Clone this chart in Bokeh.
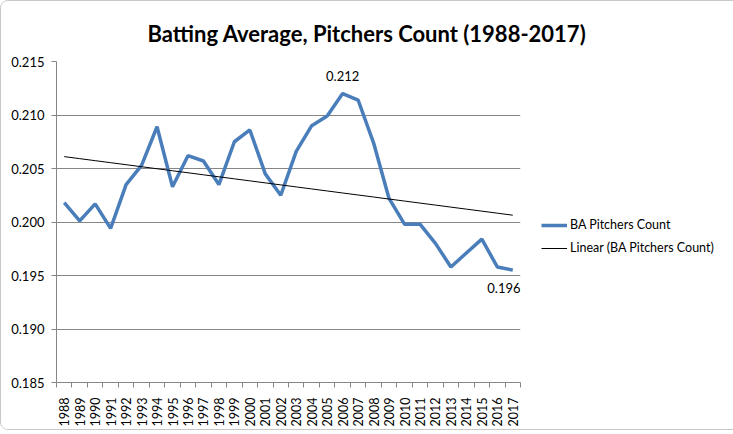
import numpy as np
from bokeh.plotting import figure
from bokeh.models import FixedTicker, NumeralTickFormatter, Legend, LegendItem, Range1d, Title
from bokeh.core.properties import value
from bokeh.embed import file_html
from bokeh.resources import INLINE

years = list(range(1988, 2018))
ba = [0.2018, 0.2001, 0.2017, 0.1994, 0.2035, 0.2053, 0.2089, 0.2033, 0.2062, 0.2057,
      0.2035, 0.2075, 0.2086, 0.2045, 0.2025, 0.2066, 0.2090, 0.2099, 0.2120, 0.2114,
      0.2074, 0.2022, 0.1998, 0.1998, 0.1980, 0.1958, 0.1971, 0.1984, 0.1958, 0.1955]
label_years = [2006, 2017]
label_text = ["0.212", "0.196"]
y_ticks = [0.185, 0.19, 0.195, 0.2, 0.205, 0.21, 0.215]

FONT = "Lato"
GREY = "#868686"

# linear trend like Excel's "Linear (...)"
slope, intercept = np.polyfit(years, ba, 1)
trend = [slope * y + intercept for y in years]

p = figure(frame_width=464, frame_height=321, output_backend="svg", toolbar_location=None,
           x_range=Range1d(1987.5, 2017.5), y_range=Range1d(0.185, 0.215),
           min_border_left=55, min_border_right=200, min_border_top=60, min_border_bottom=38)
p.outline_line_color = None
p.background_fill_color = "white"
p.border_fill_color = "white"
p.styles = {"border": "1px solid #c8c8c8", "border-radius": "8px", "overflow": "hidden"}

p.add_layout(Title(text="Batting Average, Pitchers Count (1988-2017)", align="left", offset=91,
                   standoff=29, text_font=FONT, text_font_size="22px", text_font_style="bold",
                   text_color="black"), "above")

p.xgrid.grid_line_color = None
p.ygrid.grid_line_color = GREY
p.ygrid.ticker = FixedTicker(ticks=y_ticks)

p.yaxis.ticker = FixedTicker(ticks=y_ticks)
p.yaxis.formatter = NumeralTickFormatter(format="0.000")
p.yaxis.axis_line_color = GREY
p.yaxis.major_tick_line_color = GREY
p.yaxis.major_tick_out = 5
p.yaxis.major_tick_in = 0
p.yaxis.minor_tick_line_color = None
p.yaxis.major_label_standoff = 7

p.xaxis.ticker = FixedTicker(ticks=years, minor_ticks=[y - 0.5 for y in years] + [years[-1] + 0.5])
p.xaxis.axis_line_color = GREY
p.xaxis.major_tick_line_color = None
p.xaxis.minor_tick_line_color = GREY
p.xaxis.minor_tick_out = 5
p.xaxis.minor_tick_in = 0
p.xaxis.major_label_orientation = np.pi / 2
p.xaxis.major_label_standoff = 9

p.yaxis.major_label_text_font_size = "13px"
p.xaxis.major_label_text_font_size = "12.5px"
for ax in (p.xaxis, p.yaxis):
    ax.major_label_text_font = FONT
    ax.major_label_text_color = "black"

r_ba = p.line(years, ba, line_color="#4A7EBB", line_width=3.5)
r_tr = p.line(years, trend, line_color="black", line_width=1)

# data labels (the last one kept inside the plot area)
idx = [years.index(y) for y in label_years]
p.text([years[idx[0]]], [ba[idx[0]]], text=[label_text[0]],
       text_font=value(FONT), text_font_size="13px", text_color="black",
       text_align="center", text_baseline="middle", y_offset=-18)
p.text([years[idx[1]] + 0.5], [ba[idx[1]]], text=[label_text[1]],
       text_font=value(FONT), text_font_size="13px", text_color="black",
       text_align="right", text_baseline="middle", y_offset=18)

legend = Legend(items=[LegendItem(label="BA Pitchers Count", renderers=[r_ba]),
                       LegendItem(label="Linear (BA Pitchers Count)", renderers=[r_tr])],
                location=(21, 127), orientation="vertical",
                glyph_width=26, glyph_height=14, label_standoff=3, spacing=8,
                padding=0, margin=0, border_line_color=None, background_fill_alpha=0,
                label_text_font=FONT, label_text_font_size="12.5px", label_text_color="black")
p.add_layout(legend, "right")

open("out.html", "w").write(file_html(p, INLINE))
